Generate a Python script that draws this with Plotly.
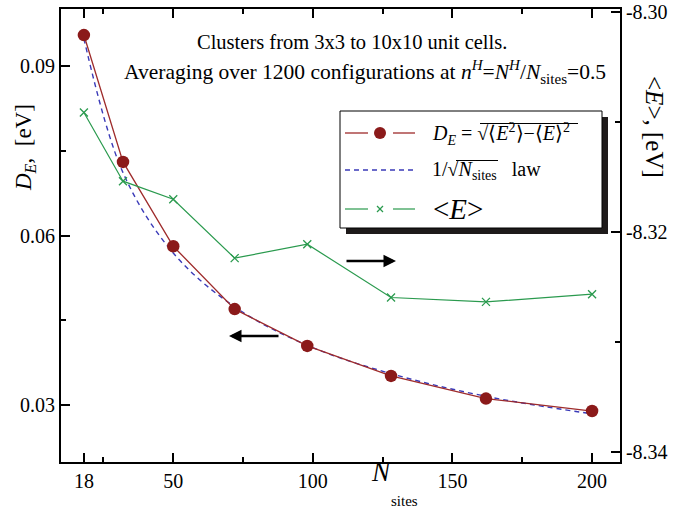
import plotly.graph_objects as go

# Cluster sizes (number of sites) and computed quantities
n_sites = [18, 32, 50, 72, 98, 128, 162, 200]
d_e = [0.0954, 0.0730, 0.0581, 0.0470, 0.0405, 0.0352, 0.0312, 0.0290]
law = [0.0948, 0.0711, 0.0569, 0.0474, 0.0406, 0.0356, 0.0316, 0.0285]
mean_e = [-8.30912, -8.31536, -8.31700, -8.32236, -8.32109, -8.32594, -8.32634, -8.32564]

x_ticks = [18, 50, 100, 150, 200]
x_minor = [25, 75, 125, 175]
y_ticks = [0.03, 0.06, 0.09]
y_minor = [0.045, 0.075]
y2_ticks = [-8.34, -8.32, -8.30]
y2_minor = [-8.33, -8.31]

FONT = "Liberation Serif"
RED_M = "#8b1a1a"
RED_L = "#9e2b2b"
BLUE = "#3a3ab8"
GREEN = "#2a9a4e"

W, H = 690, 509
L, R, T, B = 61, 620, 9, 462


def px(x):
    return (x - L) / (R - L)


def py(y):
    return (B - y) / (B - T)


fig = go.Figure()

fig.add_trace(go.Scatter(
    x=n_sites, y=mean_e, yaxis="y2", mode="lines+markers",
    line=dict(color=GREEN, width=1.2),
    marker=dict(symbol="x-thin", size=8, line=dict(color=GREEN, width=1.3)),
    showlegend=False))

fig.add_trace(go.Scatter(
    x=n_sites, y=law, mode="lines", line_shape="spline",
    line=dict(color=BLUE, width=1.4, dash="5px,4px"),
    showlegend=False))

fig.add_trace(go.Scatter(
    x=n_sites, y=d_e, mode="lines+markers",
    line=dict(color=RED_L, width=1.3),
    marker=dict(symbol="circle", size=12.5, color=RED_M),
    showlegend=False))

axis_font = dict(family=FONT, size=20, color="black")
common = dict(ticks="inside", ticklen=9, tickwidth=1.5, tickcolor="black",
              showline=True, linecolor="black", linewidth=1.8,
              showgrid=False, zeroline=False, tickfont=axis_font,
              automargin=False)
minor = dict(ticks="inside", ticklen=5, tickwidth=1.5, tickcolor="black",
             showgrid=False)

fig.update_layout(
    width=W, height=H,
    margin=dict(l=L, r=W - R, t=T, b=H - B, autoexpand=False),
    paper_bgcolor="white", plot_bgcolor="white",
    font=dict(family=FONT, color="black"),
    showlegend=False,
    xaxis=dict(range=[9.8, 210], tickvals=x_ticks, mirror="ticks",
               minor=dict(tickvals=x_minor, **minor), **common),
    yaxis=dict(range=[0.02, 0.10], tickvals=y_ticks,
               ticktext=["0.03", "0.06", "0.09"],
               minor=dict(tickvals=y_minor, **minor), **common),
    yaxis2=dict(range=[-8.3409, -8.2997], overlaying="y", side="right",
                tickvals=y2_ticks, ticktext=["-8.34", "-8.32", "-8.30"],
                minor=dict(tickvals=y2_minor, **minor), **common),
)

shapes = []
# legend frame with drop shadow
shapes.append(dict(type="rect", xref="paper", yref="paper",
                   x0=px(346), x1=px(608), y0=py(234), y1=py(117),
                   fillcolor="#1e1a1a", line=dict(width=0), layer="above"))
shapes.append(dict(type="rect", xref="paper", yref="paper",
                   x0=px(340), x1=px(602), y0=py(228), y1=py(111),
                   fillcolor="white", line=dict(color="black", width=1),
                   layer="above"))
# legend sample: D_E
for xa, xb in [(345, 368), (393, 415)]:
    shapes.append(dict(type="line", xref="paper", yref="paper",
                       x0=px(xa), x1=px(xb), y0=py(133), y1=py(133),
                       line=dict(color=RED_L, width=1.3), layer="above"))
shapes.append(dict(type="circle", xref="paper", yref="paper",
                   x0=px(374), x1=px(386), y0=py(139), y1=py(127),
                   fillcolor=RED_M, line=dict(color=RED_M, width=0),
                   layer="above"))
# legend sample: 1/sqrt(N) law
shapes.append(dict(type="line", xref="paper", yref="paper",
                   x0=px(345), x1=px(413), y0=py(170), y1=py(170),
                   line=dict(color=BLUE, width=1.4, dash="5px,4px"),
                   layer="above"))
# legend sample: <E>
for xa, xb in [(345, 368), (393, 415)]:
    shapes.append(dict(type="line", xref="paper", yref="paper",
                       x0=px(xa), x1=px(xb), y0=py(209), y1=py(209),
                       line=dict(color=GREEN, width=1.2), layer="above"))
for (xa, ya, xb, yb) in [(377, 206, 383, 212), (377, 212, 383, 206)]:
    shapes.append(dict(type="line", xref="paper", yref="paper",
                       x0=px(xa), x1=px(xb), y0=py(ya), y1=py(yb),
                       line=dict(color=GREEN, width=1.2), layer="above"))
# radical bars over the square-root arguments in the legend text
for (xa, xb, yb) in [(480, 578, 123.5), (456, 498, 160.5)]:
    shapes.append(dict(type="line", xref="paper", yref="paper",
                       x0=px(xa), x1=px(xb), y0=py(yb), y1=py(yb),
                       line=dict(color="black", width=1), layer="above"))
fig.update_layout(shapes=shapes)

ann = []


def text(x, y, s, size, anchor="center", angle=0, italic=False):
    ann.append(dict(x=px(x), y=py(y), xref="paper", yref="paper",
                    text=s, showarrow=False, xanchor=anchor, yanchor="middle",
                    textangle=angle,
                    font=dict(family=FONT, size=size, color="black",
                              style="italic" if italic else "normal")))


text(352, 42, "Clusters from 3x3 to 10x10 unit cells.", 20.5)
text(608, 72, "Averaging over 1200 configurations at <i>n</i><sup><i>H</i></sup>=<i>N</i>"
     "<sup><i>H</i></sup>/<i>N</i><sub>sites</sub>=0.5", 21.5, anchor="right")

text(430, 134, "<i>D</i><sub><i>E</i></sub> = √⟨<i>E</i><sup>2</sup>⟩−⟨<i>E</i>⟩<sup>2</sup>",
     20, anchor="left")
text(430, 170, "1/√<i>N</i><sub>sites</sub>   law", 20, anchor="left")
text(431, 209, "&lt;<i>E</i>&gt;", 29, anchor="left")

text(25, 148, "<i>D</i><sub><i>E</i></sub>,  [eV]", 23, angle=-90)
text(655, 127, "&lt;<i>E</i>&gt;, [eV]", 25, angle=90)
text(381, 472, "N", 27, italic=True)
text(404, 501, "sites", 15)

# direction arrows: which axis each curve refers to
ann.append(dict(x=px(396), y=py(261), ax=-51, ay=0,
                xref="paper", yref="paper", axref="pixel", ayref="pixel",
                showarrow=True, arrowhead=2, arrowsize=1.0, arrowwidth=2.5,
                arrowcolor="black", text=""))
ann.append(dict(x=px(229), y=py(336), ax=51, ay=0,
                xref="paper", yref="paper", axref="pixel", ayref="pixel",
                showarrow=True, arrowhead=2, arrowsize=1.0, arrowwidth=2.5,
                arrowcolor="black", text=""))
fig.update_layout(annotations=ann)

fig.write_html("out.html")
